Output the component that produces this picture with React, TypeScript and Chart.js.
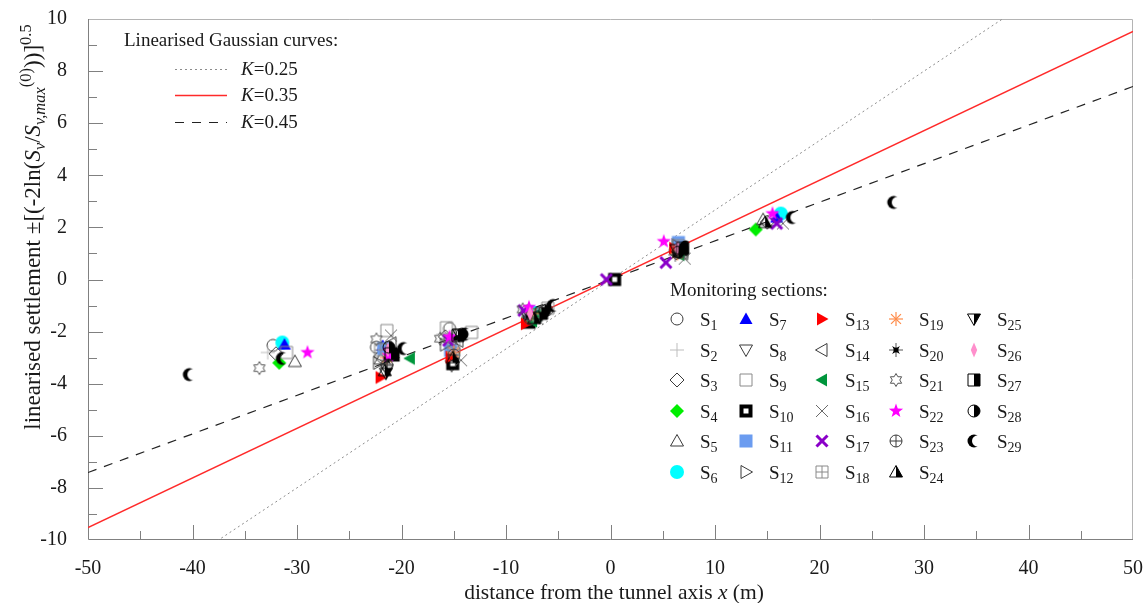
import React, { useEffect, useRef } from "react";
import { Chart, registerables } from "chart.js";

Chart.register(...registerables);

type Pt = [number, number];

// ---------- axis ranges / ticks ----------
const X_RANGE: Pt = [-50, 50];
const Y_RANGE: Pt = [-10, 10];
const X_STEP = 10;
const Y_STEP = 2;
const X_MINOR = 5;
const Y_MINOR = 1;

// ---------- linearised Gaussian curves (endpoints) ----------
const CURVE_X = [-50, 50];
const K025_Y = [-13.33, 13.33];
const K035_Y = [-9.52, 9.52];
const K045_Y = [-7.41, 7.41];
const CURVE_LABELS = ["0.25", "0.35", "0.45"];

// ---------- monitoring sections (x, linearised settlement) ----------
const S1: Pt[] = [[-32.3, -2.53], [-22.4, -2.6], [-15.4, -1.88], [-8.0, -1.22], [-6.1, -1.17], [6.2, 1.12], [15.5, 2.28]];
const S2: Pt[] = [[-32.8, -2.8], [-22.2, -2.75], [-16.0, -2.1], [-8.2, -1.3], [0, 0], [6.6, 1.22], [16.2, 2.4]];
const S3: Pt[] = [[-32.0, -2.85], [-22.0, -2.95], [-15.8, -2.2], [-7.8, -1.32], [6.3, 1.02], [15.0, 2.2]];
const S4: Pt[] = [[-31.7, -3.2], [-7.3, -1.5], [13.9, 1.92]];
const S5: Pt[] = [[-30.2, -3.15], [-22.0, -3.05], [-15.0, -2.5], [14.6, 2.3]];
const S6: Pt[] = [[-31.4, -2.42], [-7.5, -1.25], [16.3, 2.53]];
const S7: Pt[] = [[-31.2, -2.5], [-21.8, -2.55], [-7.6, -1.4], [15.9, 2.38]];
const S8: Pt[] = [[-21.4, -3.45], [-15.2, -3.3], [-7.4, -1.55], [6.7, 1.25]];
const S9: Pt[] = [[-31.0, -2.8], [-21.4, -1.96], [-15.7, -1.85], [-13.3, -2.03], [-6.0, -1.1], [6.8, 1.05]];
const S10: Pt[] = [[-20.8, -2.9], [-15.1, -3.23], [-7.8, -1.64], [0.4, 0], [6.8, 1.15]];
const S11: Pt[] = [[-21.7, -2.65], [-15.3, -2.72], [-7.6, -1.45], [6.5, 1.42]];
const S12: Pt[] = [[-22.2, -3.2], [-15.8, -2.5], [-7.2, -1.3], [6.4, 1.3]];
const S13: Pt[] = [[-22.0, -3.76], [-15.3, -2.98], [-8.1, -1.7], [6.1, 1.2]];
const S14: Pt[] = [[-21.0, -2.45], [-14.6, -2.35], [-7.0, -1.35], [6.9, 1.0]];
const S15: Pt[] = [[-19.2, -3.03], [-7.1, -1.38], [-7.5, -1.6], [6.6, 0.95]];
const S16: Pt[] = [[-21.0, -2.15], [-14.3, -3.1], [-7.0, -1.5], [7.1, 0.8], [16.5, 2.15]];
const S17: Pt[] = [[-21.2, -2.85], [-15.5, -2.34], [-8.3, -1.19], [-0.4, 0], [5.3, 0.65], [15.9, 2.15]];
const S18: Pt[] = [[-22.0, -2.7], [-15.0, -2.6], [-7.3, -1.35], [6.5, 1.3]];
const S19: Pt[] = [[-21.4, -3.0], [-15.0, -2.8], [-7.5, -1.3], [6.4, 1.0]];
const S20: Pt[] = [[-21.4, -3.1], [-14.8, -2.25], [-7.9, -1.45], [6.2, 0.95]];
const S21: Pt[] = [[-33.6, -3.4], [-22.4, -2.3], [-16.3, -2.27], [-8.4, -1.15]];
const S22: Pt[] = [[-29.0, -2.8], [-21.2, -2.92], [-15.4, -2.2], [-7.8, -1.07], [5.1, 1.46], [15.5, 2.53]];
const S23: Pt[] = [[-21.4, -3.3], [-15.0, -2.9], [-7.7, -1.5], [6.7, 1.05]];
const S24: Pt[] = [[-21.6, -3.5], [-15.1, -3.0], [-7.3, -1.5], [14.8, 2.19]];
const S25: Pt[] = [[-21.5, -3.6], [-14.5, -2.1], [-6.8, -1.45], [6.3, 1.15]];
const S26: Pt[] = [[-21.3, -2.7], [-7.7, -1.31], [6.4, 1.2]];
const S27: Pt[] = [[-21.0, -2.85], [-14.6, -2.15], [-6.6, -1.3], [6.9, 1.2]];
const S28: Pt[] = [[-21.2, -2.6], [-14.2, -2.1], [-6.3, -1.2], [6.5, 1.05]];
const S29: Pt[] = [[-40.3, -3.65], [-31.4, -3.03], [-19.8, -2.65], [-13.9, -2.1], [-5.5, -1.0], [7.2, 1.25], [17.4, 2.38], [27.1, 2.96]];

const SERIES: Pt[][] = [S1, S2, S3, S4, S5, S6, S7, S8, S9, S10, S11, S12, S13, S14, S15, S16, S17, S18, S19, S20, S21, S22, S23, S24, S25, S26, S27, S28, S29];

const FONT = '"Liberation Serif", "Times New Roman", Times, serif';
const font = (size: number, it = false) => `${it ? "italic " : ""}${size}px ${FONT}`;

type Seg = { t: string; it?: boolean; size: number; dy?: number };

function richWidth(ctx: CanvasRenderingContext2D, segs: Seg[]) {
  let w = 0;
  for (const s of segs) {
    ctx.font = font(s.size, s.it);
    w += ctx.measureText(s.t).width;
  }
  return w;
}
function drawRich(ctx: CanvasRenderingContext2D, segs: Seg[], x: number, y: number) {
  let cx = x;
  ctx.textAlign = "left";
  ctx.textBaseline = "alphabetic";
  for (const s of segs) {
    ctx.font = font(s.size, s.it);
    ctx.fillText(s.t, cx, y + (s.dy || 0));
    cx += ctx.measureText(s.t).width;
  }
}

function makeMarker(n: number): HTMLCanvasElement {
  const cv = document.createElement("canvas");
  cv.width = 18;
  cv.height = 18;
  const c = cv.getContext("2d")!;
  c.translate(9, 9);
  c.lineWidth = 1;
  const path = (pts: number[][]) => {
    c.beginPath();
    pts.forEach(([x, y], k) => (k ? c.lineTo(x, y) : c.moveTo(x, y)));
    c.closePath();
  };
  const circ = (r: number, cx = 0) => {
    c.beginPath();
    c.arc(cx, 0, r, 0, Math.PI * 2);
  };
  const fillS = (col: string) => {
    c.fillStyle = col;
    c.fill();
  };
  const strokeS = (col: string, lw = 1) => {
    c.strokeStyle = col;
    c.lineWidth = lw;
    c.stroke();
  };
  const line = (x1: number, y1: number, x2: number, y2: number) => {
    c.beginPath();
    c.moveTo(x1, y1);
    c.lineTo(x2, y2);
    c.stroke();
  };
  const star = (np: number, ro: number, ri: number) => {
    const pts: number[][] = [];
    for (let k = 0; k < np * 2; k++) {
      const a = -Math.PI / 2 + (k * Math.PI) / np;
      const r = k % 2 ? ri : ro;
      pts.push([r * Math.cos(a), r * Math.sin(a)]);
    }
    path(pts);
  };
  const up = [[0, -6.5], [6.5, 5], [-6.5, 5]];
  const down = [[-6.5, -5], [6.5, -5], [0, 6.5]];
  const right = [[-5, -6.5], [6.5, 0], [-5, 6.5]];
  const left = [[5, -6.5], [-6.5, 0], [5, 6.5]];
  const sq = [[-6, -6], [6, -6], [6, 6], [-6, 6]];
  const dia = [[0, -7], [7, 0], [0, 7], [-7, 0]];
  const D = "#3a3a3a";
  switch (n) {
    case 1: circ(6); strokeS(D); break;
    case 2: c.strokeStyle = "#bdbdbd"; line(-7, 0, 7, 0); line(0, -7, 0, 7); break;
    case 3: path(dia); strokeS(D); break;
    case 4: path(dia); fillS("#00ee00"); break;
    case 5: path(up); strokeS(D); break;
    case 6: circ(7); fillS("#00ffff"); break;
    case 7: path(up); fillS("#0000ff"); break;
    case 8: path(down); strokeS(D); break;
    case 9: path(sq); strokeS("#8a8a8a"); break;
    case 10: c.fillStyle = "#000"; c.fillRect(-6.5, -6.5, 13, 13); c.fillStyle = "#fff"; c.fillRect(-2.5, -2.5, 5, 5); break;
    case 11: c.fillStyle = "#6b9cf0"; c.fillRect(-6.5, -6.5, 13, 13); break;
    case 12: path(right); strokeS(D); break;
    case 13: path(right); fillS("#ff0000"); break;
    case 14: path(left); strokeS(D); break;
    case 15: path(left); fillS("#00963c"); break;
    case 16: c.strokeStyle = "#6a6a6a"; line(-6, -6, 6, 6); line(-6, 6, 6, -6); break;
    case 17: c.strokeStyle = "#8a00c8"; c.lineWidth = 3; line(-5.5, -5.5, 5.5, 5.5); line(-5.5, 5.5, 5.5, -5.5); break;
    case 18: path(sq); strokeS("#8a8a8a"); line(0, -6, 0, 6); line(-6, 0, 6, 0); break;
    case 19:
      c.strokeStyle = "#ff8c4a"; c.lineWidth = 1.2;
      for (let k = 0; k < 4; k++) {
        const a = (k * Math.PI) / 4;
        line(-7 * Math.cos(a), -7 * Math.sin(a), 7 * Math.cos(a), 7 * Math.sin(a));
      }
      break;
    case 20:
      c.strokeStyle = "#555"; line(-7, 0, 7, 0); line(0, -7, 0, 7);
      c.save(); c.rotate(Math.PI / 4); star(4, 5.5, 1.8); fillS("#000"); c.restore();
      circ(2.5); fillS("#000");
      break;
    case 21: star(6, 6.5, 3.75); strokeS("#555"); break;
    case 22: star(5, 7.5, 3); fillS("#ff00ff"); break;
    case 23: circ(6); strokeS(D); line(-6, 0, 6, 0); line(0, -6, 0, 6); break;
    case 24: path([[0, -6.5], [6.5, 5], [0, 5]]); fillS("#000"); path(up); strokeS("#000"); break;
    case 25: path([[0, -5], [6.5, -5], [0, 6.5]]); fillS("#000"); path(down); strokeS("#000"); break;
    case 26: path([[0, -7.5], [3.2, 0], [0, 7.5], [-3.2, 0]]); fillS("#ff8fcc"); break;
    case 27: c.fillStyle = "#000"; c.fillRect(0, -6, 6, 12); path(sq); strokeS("#000"); break;
    case 28:
      c.beginPath(); c.arc(0, 0, 6, -Math.PI / 2, Math.PI / 2); c.closePath(); fillS("#000");
      circ(6); strokeS("#000");
      break;
    case 29:
      circ(6.5); fillS("#000");
      c.globalCompositeOperation = "destination-out";
      c.beginPath(); c.arc(3.8, 0, 5.8, 0, Math.PI * 2); c.fill();
      c.globalCompositeOperation = "source-over";
      break;
  }
  return cv;
}

export default function App() {
  const ref = useRef<HTMLCanvasElement | null>(null);

  useEffect(() => {
    const canvas = ref.current!;
    const markers = SERIES.map((_, i) => makeMarker(i + 1));

    const curveDs = [
      { label: "K=0.25", ys: K025_Y, color: "#8c8c8c", dash: [2, 3], width: 1 },
      { label: "K=0.35", ys: K035_Y, color: "#ff2a2a", dash: [] as number[], width: 1.4 },
      { label: "K=0.45", ys: K045_Y, color: "#222222", dash: [9, 8], width: 1.2 },
    ].map((c, i) => ({
      label: c.label,
      data: CURVE_X.map((x, k) => ({ x, y: c.ys[k] })),
      showLine: true,
      borderColor: c.color,
      borderWidth: c.width,
      borderDash: c.dash,
      pointRadius: 0,
      order: 1000 + i,
    }));

    const seriesDs = SERIES.map((s, i) => ({
      label: `S${i + 1}`,
      data: s.map(([x, y]) => ({ x, y })),
      pointStyle: markers[i],
      pointRadius: 7,
      showLine: false,
      order: 100 - i,
    }));

    const decor = {
      id: "decor",
      beforeDatasetsDraw(chart: any) {
        const { ctx, chartArea: a, scales } = chart;
        const xs = scales.x, ys = scales.y;
        ctx.save();
        ctx.strokeStyle = "#b4b4b4";
        ctx.lineWidth = 1;
        ctx.beginPath();
        ctx.moveTo(a.left, a.top + 0.5);
        ctx.lineTo(a.right - 0.5, a.top + 0.5);
        ctx.lineTo(a.right - 0.5, a.bottom);
        ctx.stroke();
        ctx.strokeStyle = "#808080";
        ctx.beginPath();
        ctx.moveTo(a.left + 0.5, a.top);
        ctx.lineTo(a.left + 0.5, a.bottom - 0.5);
        ctx.lineTo(a.right, a.bottom - 0.5);
        ctx.stroke();
        // inward ticks
        ctx.beginPath();
        for (let v = X_RANGE[0] + X_MINOR; v < X_RANGE[1]; v += X_MINOR) {
          const px = Math.round(xs.getPixelForValue(v)) + 0.5;
          const len = v % X_STEP === 0 ? 15 : 9;
          ctx.moveTo(px, a.bottom);
          ctx.lineTo(px, a.bottom - len);
        }
        for (let v = Y_RANGE[0] + Y_MINOR; v < Y_RANGE[1]; v += Y_MINOR) {
          const py = Math.round(ys.getPixelForValue(v)) + 0.5;
          const len = v % Y_STEP === 0 ? 15 : 9;
          ctx.moveTo(a.left, py);
          ctx.lineTo(a.left + len, py);
        }
        ctx.stroke();
        ctx.restore();
      },
      afterDraw(chart: any) {
        const { ctx } = chart;
        ctx.save();
        ctx.fillStyle = "#1a1a1a";
        // axis titles
        const xt: Seg[] = [
          { t: "distance from the tunnel axis ", size: 21.5 },
          { t: "x", it: true, size: 21.5 },
          { t: " (m)", size: 21.5 },
        ];
        const xw = richWidth(ctx, xt);
        drawRich(ctx, xt, 614 - xw / 2, 599);

        const yt: Seg[] = [
          { t: "linearised settlement \u00b1[(-2ln(", size: 23 },
          { t: "S", it: true, size: 23 },
          { t: "v", it: true, size: 16.5, dy: 5 },
          { t: "/", size: 23 },
          { t: "S", it: true, size: 23 },
          { t: "v,max", it: true, size: 16.5, dy: 5 },
          { t: "(0)", size: 16.5, dy: -9 },
          { t: "))]", size: 23 },
          { t: "0.5", size: 16.5, dy: -9 },
        ];
        const yw = richWidth(ctx, yt);
        ctx.save();
        ctx.translate(40, 227);
        ctx.rotate(-Math.PI / 2);
        drawRich(ctx, yt, -yw / 2, 0);
        ctx.restore();

        // legend: curves
        drawRich(ctx, [{ t: "Linearised Gaussian curves:", size: 19 }], 124, 46);
        const ly = [69, 95, 122];
        curveDs.forEach((d, i) => {
          ctx.save();
          ctx.strokeStyle = d.borderColor;
          ctx.lineWidth = d.borderWidth;
          ctx.setLineDash(d.borderDash);
          ctx.beginPath();
          ctx.moveTo(175, ly[i] + 0.5);
          ctx.lineTo(227, ly[i] + 0.5);
          ctx.stroke();
          ctx.restore();
          drawRich(ctx, [{ t: "K", it: true, size: 19 }, { t: "=" + CURVE_LABELS[i], size: 19 }], 241, ly[i] + 6);
        });

        // legend: monitoring sections
        drawRich(ctx, [{ t: "Monitoring sections:", size: 19 }], 670, 296);
        const colX = [677, 746, 822, 896, 974];
        for (let i = 0; i < SERIES.length; i++) {
          const col = Math.floor(i / 6);
          const row = i % 6;
          const cx = colX[col];
          const cy = 319 + row * 30.6;
          const m = markers[i];
          ctx.drawImage(m, Math.round(cx - m.width / 2), Math.round(cy - m.height / 2));
          drawRich(ctx, [{ t: "S", size: 19 }, { t: String(i + 1), size: 14, dy: 4 }], cx + 23, cy + 7);
        }
        ctx.restore();
      },
    };

    const chart: any = new Chart(canvas, {
      type: "scatter",
      data: { datasets: [...seriesDs, ...curveDs] as any },
      options: {
        responsive: false,
        animation: false,
        events: [],
        layout: { padding: { top: 19, right: 13, left: 0, bottom: 0 } },
        plugins: { legend: { display: false }, tooltip: { enabled: false } },
        scales: {
          x: {
            type: "linear",
            min: X_RANGE[0],
            max: X_RANGE[1],
            grid: { display: false },
            border: { display: false },
            ticks: { stepSize: X_STEP, padding: 9, color: "#1a1a1a", font: { family: FONT, size: 20 } },
            afterFit: (s: any) => {
              s.height = 63;
              s.paddingLeft = 0;
              s.paddingRight = 0;
            },
          },
          y: {
            type: "linear",
            min: Y_RANGE[0],
            max: Y_RANGE[1],
            grid: { display: false },
            border: { display: false },
            ticks: { stepSize: Y_STEP, padding: 13, color: "#1a1a1a", font: { family: FONT, size: 20 } },
            afterFit: (s: any) => {
              s.width = 88;
              s.paddingTop = 0;
              s.paddingBottom = 0;
            },
          },
        },
      },
      plugins: [decor],
    });

    return () => chart.destroy();
  }, []);

  return (
    <div style={{ position: "absolute", left: 0, top: 0, width: 1146, height: 603, background: "#fff" }}>
      <canvas ref={ref} width={1146} height={603} style={{ display: "block" }} />
    </div>
  );
}
